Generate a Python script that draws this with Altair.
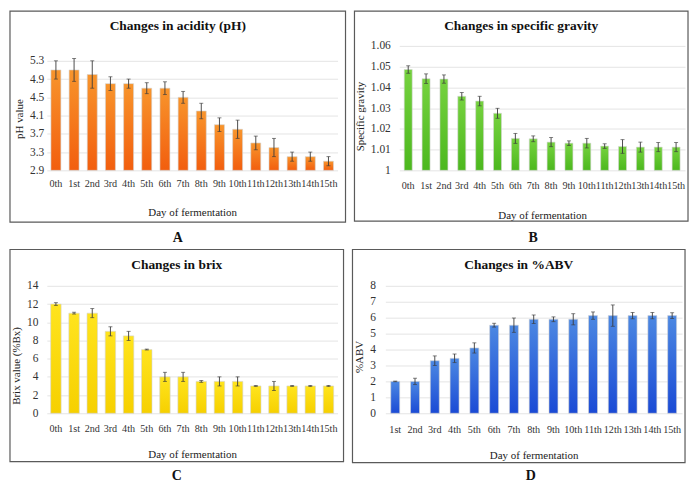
import altair as alt
import pandas as pd

# ---------------- data ----------------
days16 = ["0th", "1st", "2nd", "3rd", "4th", "5th", "6th", "7th", "8th", "9th",
          "10th", "11th", "12th", "13th", "14th", "15th"]
days15 = days16[1:]

ph_values = [5.1, 5.1, 5.0, 4.8, 4.8, 4.7, 4.7, 4.5, 4.2, 3.9, 3.8, 3.5, 3.4, 3.2, 3.2, 3.1]
ph_errors = [0.2, 0.25, 0.3, 0.15, 0.1, 0.12, 0.14, 0.13, 0.17, 0.15, 0.2, 0.15, 0.2, 0.1, 0.1, 0.1]
ph_ticks = [2.9, 3.3, 3.7, 4.1, 4.5, 4.9, 5.3]

sg_values = [1.0486, 1.0442, 1.0440, 1.0357, 1.0334, 1.0275, 1.0154, 1.0152, 1.0136, 1.0131,
             1.0131, 1.0117, 1.0115, 1.0112, 1.0112, 1.0112]
sg_errors = [0.0018, 0.0023, 0.002, 0.0018, 0.0023, 0.0024, 0.0024, 0.0014, 0.0022, 0.0011,
             0.0023, 0.0011, 0.0033, 0.0024, 0.0022, 0.0022]
sg_ticks = [1.0, 1.01, 1.02, 1.03, 1.04, 1.05, 1.06]

brix_values = [12, 11, 11, 9, 8.5, 7, 4, 4, 3.5, 3.5, 3.5, 3, 3, 3, 3, 3]
brix_errors = [0.15, 0.1, 0.5, 0.5, 0.5, 0.05, 0.5, 0.5, 0.1, 0.5, 0.5, 0.05, 0.5, 0.05, 0.05, 0.05]
brix_ticks = [0, 2, 4, 6, 8, 10, 12, 14]

abv_values = [2.0, 2.0, 3.3, 3.45, 4.1, 5.53, 5.53, 5.9, 5.9, 5.9, 6.13, 6.13, 6.13, 6.13, 6.13]
abv_errors = [0.02, 0.2, 0.3, 0.27, 0.32, 0.12, 0.45, 0.27, 0.15, 0.35, 0.23, 0.67, 0.2, 0.2, 0.18]
abv_ticks = [0, 1, 2, 3, 4, 5, 6, 7, 8]

FONT = "Liberation Serif"


def gradient(top, bottom):
    return alt.Gradient(
        gradient="linear",
        stops=[alt.GradientStop(color=top, offset=0), alt.GradientStop(color=bottom, offset=1)],
        x1=0, x2=0, y1=0, y2=1,
    )


def panel(days, values, errors, ticks, ymax, label_expr, ytitle, ytitle_y, title, letter, colors,
          w, h, frame, ylab_pad, xlab_pad, xtitle_pad, bar_size, title_y, letter_y, letter_dx):
    L, T, R, B = frame
    df = pd.DataFrame({"day": days, "value": values, "err": errors})
    base = alt.Chart(df).transform_calculate(
        lo="datum.value - datum.err", hi="datum.value + datum.err"
    )
    x = alt.X(
        "day:N", sort=days, title="Day of fermentation",
        axis=alt.Axis(labelAngle=0, ticks=False, domain=False, grid=False,
                      labelPadding=xlab_pad, titlePadding=xtitle_pad, labelOverlap=False,
                      labelFontSize=10.2),
    )
    yscale = alt.Scale(domain=[ticks[0], ymax], nice=False, zero=False)
    yaxis = alt.Axis(values=ticks, ticks=False, domain=False, labelPadding=ylab_pad,
                     labelExpr=label_expr, labelOverlap=False, titlePadding=5, titleY=ytitle_y,
                     grid=True, gridColor="#e4e4e4", gridWidth=1)

    def yenc(field):
        return alt.Y(field, type="quantitative", scale=yscale, title=ytitle, axis=yaxis)

    bars = base.mark_bar(size=bar_size, color=gradient(*colors), stroke="#d4d4d4",
                         strokeWidth=0.6).encode(
        x=x, y=yenc("value"), y2=alt.datum(ticks[0]),
    )
    rule = base.mark_rule(color="#3a3a3a", strokeWidth=0.9).encode(
        x=x, y=yenc("lo"), y2=alt.Y2("hi:Q")
    )
    cap_lo = base.mark_tick(color="#3a3a3a", size=4, thickness=0.9).encode(x=x, y=yenc("lo"))
    cap_hi = base.mark_tick(color="#3a3a3a", size=4, thickness=0.9).encode(x=x, y=yenc("hi"))

    one = pd.DataFrame({"title": [title], "letter": [letter]})
    cx = (-L + w + R) / 2
    box = alt.Chart(one).mark_rect(fillOpacity=0, stroke="#5a5a5a", strokeWidth=1.2).encode(
        x=alt.value(-L), x2=alt.value(w + R), y=alt.value(-T), y2=alt.value(h + B)
    )
    ttl = alt.Chart(one).mark_text(font=FONT, fontSize=13.5, fontWeight="bold", color="#111",
                                   baseline="middle", align="center").encode(
        text="title:N", x=alt.value(cx), y=alt.value(title_y)
    )
    let = alt.Chart(one).mark_text(font=FONT, fontSize=14, fontWeight="bold", color="#111",
                                   baseline="middle", align="center").encode(
        text="letter:N", x=alt.value(cx + letter_dx), y=alt.value(letter_y)
    )
    return alt.layer(bars, rule, cap_lo, cap_hi, box, ttl, let).properties(width=w, height=h)


one_dec = "format(datum.value, '.1f')"
sg_fmt = "datum.value == 1 ? '1' : format(datum.value, '.2f')"
int_fmt = "format(datum.value, 'd')"

pA = panel(days16, ph_values, ph_errors, ph_ticks, 2.9 + 2.4 * 125 / 110, one_dec,
           "pH value", 73, "Changes in acidity (pH)", "A",
           ("#F8952C", "#F25E0E"), 292, 125, (37, 35, 8, 52), 3, 8, 18, 10, -20, 193, 0)
pB = panel(days16, sg_values, sg_errors, sg_ticks, 1.06, sg_fmt,
           "Specific gravity", 70.5, "Changes in specific gravity", "B",
           ("#76D23F", "#4CB81E"), 287, 125, (45, 35, 3, 51), 9, 10, 19, 8, -20, 193, 12)
pC = panel(days16, brix_values, brix_errors, brix_ticks, 14, int_fmt,
           "Brix value (%Bx)", 80, "Changes in brix", "C",
           ("#FFE41E", "#F6D000"), 292, 128, (37, 36.5, 6, 48.5), 9, 10, 15, 10.5, -20.5, 191.5, 0)
pD = panel(days15, abv_values, abv_errors, abv_ticks, 8, int_fmt,
           "%ABV", 71, "Changes in %ABV", "D",
           ("#4C88E2", "#1A4AD5"), 298, 128, (33, 36.5, 3, 49.5), 10, 11, 15, 9, -20.5, 191.5, 12)

chart = alt.vconcat(
    alt.hconcat(pA, pB, spacing=62, bounds="flush"),
    alt.hconcat(pC, pD, spacing=48, bounds="flush"),
    spacing=241, bounds="flush",
).properties(padding=0).configure_view(stroke="transparent").configure_axis(
    labelFont=FONT, titleFont=FONT, labelFontSize=11.5, titleFontSize=11,
    titleFontWeight="normal", labelColor="#333", titleColor="#222",
)

chart.save("out.html", embed_options={"renderer": "svg", "actions": False})
